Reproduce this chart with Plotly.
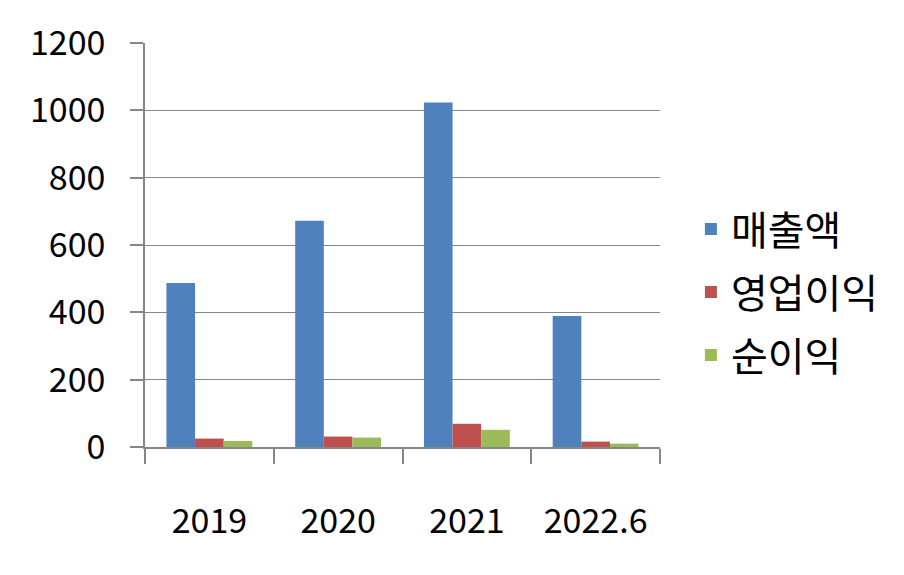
import plotly.graph_objects as go

categories = ["2019", "2020", "2021", "2022.6"]
sales = [487, 672, 1023, 389]
operating_profit = [25, 31, 69, 16]
net_profit = [18, 28, 51, 10]
series_names = ["매출액", "영업이익", "순이익"]
colors = ["#4F81BD", "#C0504D", "#9BBB59"]

FONT = "Noto Sans CJK KR, Malgun Gothic, sans-serif"
GRID = "#868686"

fig = go.Figure()
for i, (name, vals) in enumerate(zip(series_names, [sales, operating_profit, net_profit])):
    fig.add_trace(go.Bar(x=categories, y=vals, name=name, marker_color=colors[i],
                         marker_line_width=0, legendgroup=str(i)))

fig.update_layout(
    width=904, height=575,
    margin=dict(l=137, r=252, t=35, b=136, autoexpand=False),
    paper_bgcolor="white", plot_bgcolor="white",
    barmode="group", bargap=0.333, bargroupgap=0,
    font=dict(family=FONT, size=34, color="black"),
    legend=dict(x=1.06, y=0.62, xanchor="left", yanchor="top",
                font=dict(size=40), tracegroupgap=8, traceorder="grouped",
                bgcolor="rgba(0,0,0,0)"),
    showlegend=True,
)
fig.update_xaxes(
    type="category", showline=True, linecolor=GRID, linewidth=1.5,
    ticks="outside", tickson="boundaries", ticklen=15, tickcolor=GRID, tickwidth=1.5,
    ticklabelstandoff=43, showgrid=False,
    tickfont=dict(size=34),
)
fig.update_yaxes(
    range=[0, 1200], dtick=200, showline=True, linecolor=GRID, linewidth=1.5,
    ticks="outside", ticklen=13, tickcolor=GRID, tickwidth=1.5,
    showgrid=True, gridcolor=GRID, gridwidth=1, zeroline=False,
    ticklabelstandoff=18, tickfont=dict(size=34),
)
fig.write_html("out.html")
